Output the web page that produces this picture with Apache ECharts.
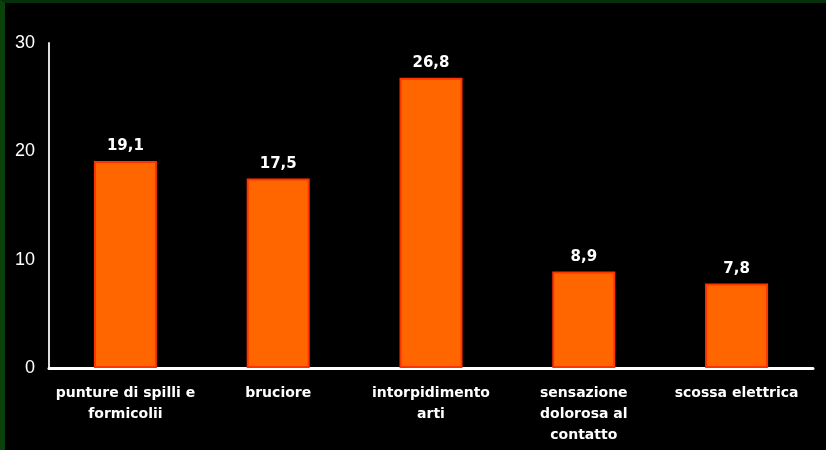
<!DOCTYPE html>
<html>
<head>
<meta charset="utf-8">
<script src="https://cdn.jsdelivr.net/npm/echarts@6/dist/echarts.min.js"></script>
<style>
html, body { margin: 0; padding: 0; background: #000; }
#frame { width: 826px; height: 450px; box-sizing: border-box; background: #000;
  border-top: 3px solid #06300a; border-left: 5px solid #0a420a; }
#chart { width: 821px; height: 447px; }
</style>
</head>
<body>
<div id="frame"><div id="chart"></div></div>
<script>
// categorie e valori (%)
var categories = ['punture di spilli e\nformicolii', 'bruciore', 'intorpidimento\narti', 'sensazione\ndolorosa al\ncontatto', 'scossa elettrica'];
var values = [19.1, 17.5, 26.8, 8.9, 7.8];
var yTicks = [0, 10, 20, 30];

var myChart = echarts.init(document.getElementById('chart'));
myChart.setOption({
    backgroundColor: '#000',
    animation: false,
    grid: { left: 44, right: 13, top: 40, bottom: 82 },
    xAxis: {
        type: 'category',
        data: categories,
        axisLine: { lineStyle: { color: '#fff', width: 3 } },
        axisTick: { show: false },
        axisLabel: {
            color: '#fff',
            fontFamily: 'DejaVu Sans',
            fontWeight: 'bold',
            fontSize: 14,
            lineHeight: 21,
            margin: 15,
            interval: 0
        }
    },
    yAxis: {
        type: 'value',
        min: yTicks[0],
        max: yTicks[yTicks.length - 1],
        interval: 10,
        axisLine: { show: true, lineStyle: { color: '#ddd', width: 2 } },
        axisTick: { show: false },
        splitLine: { show: false },
        axisLabel: { color: '#fff', fontFamily: 'Liberation Sans', fontSize: 18, margin: 14 }
    },
    series: [{
        type: 'bar',
        data: values,
        barWidth: 63,
        itemStyle: { color: '#ff6600', borderColor: '#ff3300', borderWidth: 2 },
        label: {
            show: true,
            position: 'top',
            distance: 7,
            color: '#fff',
            fontFamily: 'DejaVu Sans',
            fontWeight: 'bold',
            fontSize: 15,
            formatter: function (p) { return p.value.toFixed(1).replace('.', ','); }
        }
    }]
});
</script>
</body>
</html>
